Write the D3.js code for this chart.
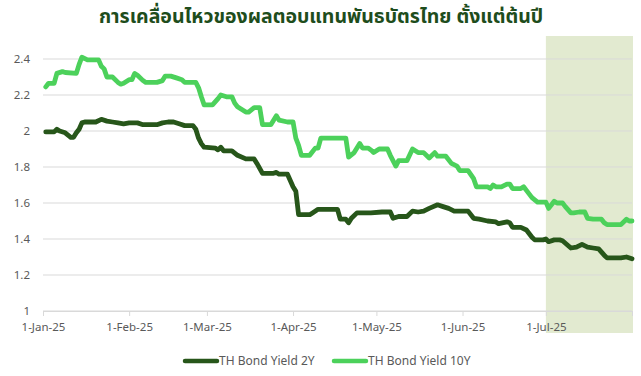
<!DOCTYPE html>
<html>
<head>
<meta charset="utf-8">
<script src="https://cdn.jsdelivr.net/npm/d3@7"></script>
<style>
  body { margin: 0; background: #fff; }
  svg { display: block; }
</style>
</head>
<body>
<div id="chart"></div>
<script>
// data
var dates2Y = ["2025-01-02","2025-01-05","2025-01-06","2025-01-07","2025-01-09","2025-01-11","2025-01-12","2025-01-13","2025-01-14","2025-01-15","2025-01-16","2025-01-20","2025-01-22","2025-01-24","2025-01-26","2025-01-28","2025-01-30","2025-02-01","2025-02-04","2025-02-06","2025-02-11","2025-02-13","2025-02-15","2025-02-17","2025-02-19","2025-02-21","2025-02-24","2025-02-25","2025-02-26","2025-02-27","2025-02-28","2025-03-04","2025-03-05","2025-03-06","2025-03-07","2025-03-10","2025-03-12","2025-03-15","2025-03-18","2025-03-19","2025-03-21","2025-03-25","2025-03-26","2025-03-27","2025-03-30","2025-04-01","2025-04-02","2025-04-03","2025-04-07","2025-04-08","2025-04-10","2025-04-17","2025-04-18","2025-04-20","2025-04-21","2025-04-22","2025-04-24","2025-04-29","2025-05-03","2025-05-06","2025-05-07","2025-05-09","2025-05-12","2025-05-14","2025-05-16","2025-05-18","2025-05-20","2025-05-23","2025-05-25","2025-05-27","2025-05-29","2025-06-03","2025-06-05","2025-06-07","2025-06-10","2025-06-13","2025-06-14","2025-06-17","2025-06-18","2025-06-19","2025-06-22","2025-06-24","2025-06-26","2025-06-27","2025-06-30","2025-07-01","2025-07-02","2025-07-04","2025-07-06","2025-07-07","2025-07-10","2025-07-12","2025-07-14","2025-07-16","2025-07-18","2025-07-20","2025-07-22","2025-07-23","2025-07-28","2025-07-30","2025-08-01"];
var yield2Y = [1.995,1.995,2.01,2.0,1.99,1.965,1.965,1.99,2.01,2.045,2.05,2.05,2.065,2.055,2.05,2.045,2.04,2.045,2.045,2.035,2.035,2.045,2.05,2.05,2.04,2.03,2.03,2.01,1.96,1.93,1.91,1.905,1.895,1.91,1.89,1.89,1.865,1.845,1.845,1.82,1.765,1.765,1.77,1.76,1.76,1.69,1.665,1.535,1.535,1.545,1.565,1.565,1.51,1.51,1.49,1.515,1.545,1.545,1.55,1.55,1.515,1.525,1.525,1.555,1.55,1.555,1.57,1.59,1.58,1.57,1.555,1.555,1.515,1.51,1.50,1.495,1.485,1.495,1.49,1.465,1.465,1.45,1.41,1.395,1.395,1.40,1.385,1.395,1.395,1.39,1.35,1.355,1.37,1.355,1.35,1.345,1.31,1.295,1.295,1.30,1.29];

var dates10Y = ["2025-01-02","2025-01-03","2025-01-05","2025-01-06","2025-01-08","2025-01-09","2025-01-13","2025-01-14","2025-01-15","2025-01-17","2025-01-21","2025-01-22","2025-01-23","2025-01-24","2025-01-26","2025-01-28","2025-01-29","2025-01-30","2025-02-01","2025-02-02","2025-02-03","2025-02-04","2025-02-06","2025-02-07","2025-02-11","2025-02-13","2025-02-14","2025-02-16","2025-02-18","2025-02-20","2025-02-21","2025-02-25","2025-02-26","2025-02-27","2025-02-28","2025-03-03","2025-03-05","2025-03-06","2025-03-08","2025-03-10","2025-03-11","2025-03-12","2025-03-15","2025-03-16","2025-03-18","2025-03-20","2025-03-21","2025-03-24","2025-03-26","2025-03-27","2025-03-30","2025-04-01","2025-04-02","2025-04-03","2025-04-04","2025-04-07","2025-04-09","2025-04-10","2025-04-11","2025-04-20","2025-04-21","2025-04-23","2025-04-25","2025-04-26","2025-04-28","2025-04-29","2025-04-30","2025-05-02","2025-05-05","2025-05-06","2025-05-08","2025-05-09","2025-05-12","2025-05-14","2025-05-16","2025-05-18","2025-05-20","2025-05-22","2025-05-23","2025-05-26","2025-05-28","2025-05-30","2025-05-31","2025-06-03","2025-06-05","2025-06-06","2025-06-10","2025-06-11","2025-06-12","2025-06-13","2025-06-15","2025-06-17","2025-06-18","2025-06-19","2025-06-22","2025-06-23","2025-06-24","2025-06-26","2025-06-28","2025-07-01","2025-07-02","2025-07-04","2025-07-05","2025-07-07","2025-07-08","2025-07-10","2025-07-11","2025-07-13","2025-07-15","2025-07-16","2025-07-18","2025-07-21","2025-07-22","2025-07-23","2025-07-28","2025-07-30","2025-07-31","2025-08-01"];
var yield10Y = [2.245,2.265,2.265,2.32,2.33,2.325,2.32,2.37,2.41,2.395,2.395,2.36,2.345,2.30,2.30,2.27,2.26,2.265,2.285,2.285,2.32,2.31,2.28,2.27,2.27,2.28,2.305,2.305,2.295,2.285,2.27,2.27,2.24,2.19,2.145,2.145,2.18,2.20,2.19,2.19,2.155,2.135,2.105,2.105,2.13,2.13,2.035,2.035,2.085,2.06,2.05,2.05,1.96,1.92,1.865,1.865,1.905,1.905,1.96,1.96,1.855,1.88,1.93,1.905,1.905,1.895,1.88,1.90,1.90,1.865,1.805,1.835,1.835,1.90,1.88,1.88,1.85,1.88,1.86,1.86,1.82,1.805,1.78,1.78,1.735,1.69,1.69,1.68,1.70,1.69,1.69,1.705,1.705,1.68,1.68,1.69,1.67,1.63,1.605,1.605,1.57,1.61,1.60,1.60,1.58,1.545,1.545,1.55,1.55,1.515,1.51,1.51,1.49,1.48,1.48,1.51,1.50,1.50];

var seriesNames = ["TH Bond Yield 2Y", "TH Bond Yield 10Y"];
var seriesColors = ["#27561a", "#4cd15b"];
var yTicks = [1, 1.2, 1.4, 1.6, 1.8, 2, 2.2, 2.4];
var yTickLabels = ["1", "1.2", "1.4", "1.6", "1.8", "2", "2.2", "2.4"];
var xTicks = ["2025-01-01","2025-02-01","2025-03-01","2025-04-01","2025-05-01","2025-06-01","2025-07-01","2025-08-01"];
var xTickLabels = ["1-Jan-25","1-Feb-25","1-Mar-25","1-Apr-25","1-May-25","1-Jun-25","1-Jul-25",""];
var shadeRange = ["2025-07-01", "2025-08-01"];
var title = "การเคลื่อนไหวของผลตอบแทนพันธบัตรไทย ตั้งแต่ต้นปี";

var width = 641, height = 376;
var margin = { left: 43, right: 9, top: 59, bottom: 65 };
var parse = d3.timeParse("%Y-%m-%d");
var font = "'Noto Sans', 'DejaVu Sans', sans-serif";

var svg = d3.select("#chart").append("svg")
    .attr("width", width)
    .attr("height", height);

var x = d3.scaleTime()
    .domain([parse(xTicks[0]), parse(xTicks[xTicks.length - 1])])
    .range([margin.left, width - margin.right]);

var y = d3.scaleLinear()
    .domain([1, 2.4])
    .range([height - margin.bottom, margin.top]);

// shaded period (July onwards)
svg.append("rect")
    .attr("x", x(parse(shadeRange[0])))
    .attr("y", 36)
    .attr("width", x(parse(shadeRange[1])) - x(parse(shadeRange[0])) + 1)
    .attr("height", 333 - 36)
    .attr("fill", "#e2ead0");

// gridlines
svg.append("g")
    .selectAll("line")
    .data(yTicks)
    .join("line")
    .attr("x1", margin.left)
    .attr("x2", width - margin.right)
    .attr("y1", d => y(d))
    .attr("y2", d => y(d))
    .attr("stroke", "#d9d9d9")
    .attr("stroke-width", 1);

// y axis labels
var yAxis = d3.axisLeft(y)
    .tickValues(yTicks)
    .tickSize(0)
    .tickPadding(13)
    .tickFormat((d, i) => yTickLabels[i]);

svg.append("g")
    .attr("transform", "translate(" + margin.left + ",0)")
    .call(yAxis)
    .call(g => g.select(".domain").remove())
    .selectAll("text")
    .attr("fill", "#595959")
    .style("font-family", font)
    .style("font-size", "11.5px");

// x axis
var xAxis = d3.axisBottom(x)
    .tickValues(xTicks.map(parse))
    .tickSize(5)
    .tickPadding(7)
    .tickFormat((d, i) => xTickLabels[i]);

var gx = svg.append("g")
    .attr("transform", "translate(0," + y(1) + ")")
    .call(xAxis);
gx.select(".domain").attr("stroke", "#d9d9d9");
gx.selectAll("line").attr("stroke", "#d9d9d9");
gx.selectAll("text")
    .attr("fill", "#595959")
    .style("font-family", font)
    .style("font-size", "11.5px");

// lines
var line = d3.line()
    .x(d => x(d.date))
    .y(d => y(d.value));

var series = [
    dates2Y.map((d, i) => ({ date: parse(d), value: yield2Y[i] })),
    dates10Y.map((d, i) => ({ date: parse(d), value: yield10Y[i] }))
];

series.forEach(function (s, i) {
    svg.append("path")
        .datum(s)
        .attr("d", line)
        .attr("fill", "none")
        .attr("stroke", seriesColors[i])
        .attr("stroke-width", 4.8)
        .attr("stroke-linejoin", "round")
        .attr("stroke-linecap", "round");
});

// title
svg.append("text")
    .attr("x", 321)
    .attr("y", 23)
    .attr("text-anchor", "middle")
    .attr("fill", "#1e4d1c")
    .style("font-family", "'Noto Sans Thai', 'Noto Sans', sans-serif")
    .style("font-weight", "bold")
    .style("font-size", "19.5px")
    .text(title);

// legend
var legendX = [185, 334];
var legend = svg.append("g");
seriesNames.forEach(function (name, i) {
    legend.append("line")
        .attr("x1", legendX[i])
        .attr("x2", legendX[i] + 32)
        .attr("y1", 361)
        .attr("y2", 361)
        .attr("stroke", seriesColors[i])
        .attr("stroke-width", 4.5)
        .attr("stroke-linecap", "round");
    legend.append("text")
        .attr("x", legendX[i] + 34)
        .attr("y", 365)
        .attr("fill", "#595959")
        .style("font-family", font)
        .style("font-size", "12px")
        .text(name);
});
</script>
</body>
</html>
